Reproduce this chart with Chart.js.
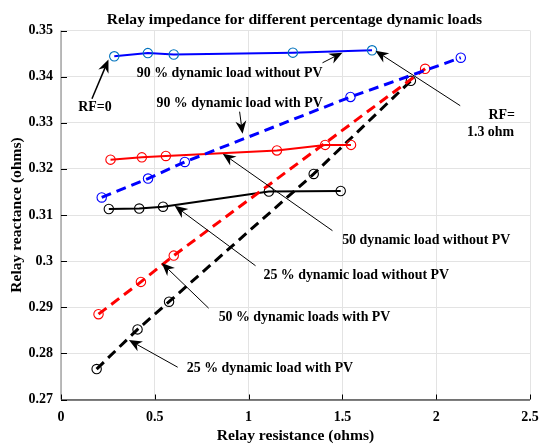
<!DOCTYPE html>
<html>
<head>
<meta charset="utf-8">
<script src="https://cdn.jsdelivr.net/npm/chart.js@4.4.0/dist/chart.umd.min.js"></script>
<style>
  html, body { margin: 0; padding: 0; background: #fff; }
  canvas { display: block; }
</style>
</head>
<body>
<canvas id="chart" width="539" height="444"></canvas>
<script>
// resistance (x) / reactance (y), ohms
const r90NoPV = [0.284, 0.463, 0.601, 1.236, 1.658];
const x90NoPV = [0.3444, 0.3451, 0.3448, 0.3452, 0.3457];
const r90PV = [0.217, 0.464, 0.660, 1.543, 2.131];
const x90PV = [0.3138, 0.3179, 0.3215, 0.3356, 0.3441];
const r50NoPV = [0.264, 0.431, 0.559, 1.151, 1.408, 1.546];
const x50NoPV = [0.3220, 0.3225, 0.3228, 0.3240, 0.3252, 0.3252];
const r50PV = [0.200, 0.426, 0.601, 1.941];
const x50PV = [0.2885, 0.2955, 0.3012, 0.3417];
const r25NoPV = [0.255, 0.417, 0.544, 1.108, 1.491];
const x25NoPV = [0.3113, 0.3114, 0.3118, 0.3151, 0.3152];
const r25PV = [0.190, 0.408, 0.576, 1.347, 1.865];
const x25PV = [0.2766, 0.2852, 0.2912, 0.3189, 0.3391];

const xTicks = [0, 0.5, 1, 1.5, 2, 2.5];
const yTicks = [0.27, 0.28, 0.29, 0.30, 0.31, 0.32, 0.33, 0.34, 0.35];

// text notes and arrows, in data units
const notes = [
  { text: "RF=0", x: 0.181, y: 0.3334, align: "center" },
  { text: "90 % dynamic load without PV", x: 0.899, y: 0.3408, align: "center" },
  { text: "90 % dynamic load with PV", x: 0.952, y: 0.3343, align: "center" },
  { text: "RF=", x: 2.420, y: 0.3317, align: "right" },
  { text: "1.3 ohm", x: 2.415, y: 0.3278, align: "right" },
  { text: "50 dynamic load without PV", x: 1.947, y: 0.3046, align: "center" },
  { text: "25 % dynamic load without PV", x: 1.574, y: 0.2970, align: "center" },
  { text: "50 % dynamic loads with PV", x: 1.298, y: 0.2879, align: "center" },
  { text: "25 % dynamic load with PV", x: 1.114, y: 0.2768, align: "center" },
];
const arrows = [
  { from: [0.165, 0.3352], to: [0.253, 0.3437], lw: 1.5 },
  { from: [1.394, 0.3430], to: [1.500, 0.3452], lw: 1 },
  { from: [0.952, 0.3324], to: [0.968, 0.3276], lw: 1 },
  { from: [2.128, 0.3337], to: [1.676, 0.3456], lw: 1 },
  { from: [1.447, 0.3066], to: [0.862, 0.3233], lw: 1 },
  { from: [1.037, 0.2990], to: [0.606, 0.3120], lw: 1 },
  { from: [0.787, 0.2898], to: [0.537, 0.2996], lw: 1 },
  { from: [0.622, 0.2770], to: [0.362, 0.2829], lw: 1 },
];

const SERIF = "'Liberation Serif', 'Times New Roman', serif";

const pts = (rs, xs) => rs.map((r, i) => ({ x: r, y: xs[i] }));

function series(rs, xs, color, markerColor, dashed) {
  return {
    data: pts(rs, xs),
    showLine: true,
    borderColor: color,
    borderWidth: dashed ? 3 : 2,
    borderDash: dashed ? [10, 6] : [],
    pointRadius: 4.7,
    pointBorderWidth: 1.1,
    pointBorderColor: markerColor,
    pointBackgroundColor: "rgba(0,0,0,0)",
    tension: 0,
  };
}

function drawArrow(ctx, x1, y1, x2, y2, lw) {
  const ang = Math.atan2(y2 - y1, x2 - x1);
  const len = 13, half = 5.5, notch = 9;
  const bx = x2 - notch * Math.cos(ang), by = y2 - notch * Math.sin(ang);
  ctx.strokeStyle = "#000";
  ctx.lineWidth = lw;
  ctx.beginPath();
  ctx.moveTo(x1, y1);
  ctx.lineTo(bx, by);
  ctx.stroke();
  const cx = x2 - len * Math.cos(ang), cy = y2 - len * Math.sin(ang);
  const nx = -Math.sin(ang), ny = Math.cos(ang);
  ctx.fillStyle = "#000";
  ctx.beginPath();
  ctx.moveTo(x2, y2);
  ctx.lineTo(cx + nx * half, cy + ny * half);
  ctx.lineTo(bx, by);
  ctx.lineTo(cx - nx * half, cy - ny * half);
  ctx.closePath();
  ctx.fill();
}

const decorations = {
  id: "decorations",
  afterDraw(chart) {
    const { ctx, chartArea: a, scales } = chart;
    const xs = scales.x, ys = scales.y;
    ctx.save();
    // axis lines
    ctx.strokeStyle = "#a6a6a6";
    ctx.lineWidth = 1.5;
    ctx.beginPath();
    ctx.moveTo(a.left, a.top);
    ctx.lineTo(a.left, a.bottom);
    ctx.stroke();
    ctx.strokeStyle = "#000";
    ctx.lineWidth = 1;
    ctx.beginPath();
    ctx.moveTo(a.left, a.bottom + 0.5);
    ctx.lineTo(a.right, a.bottom + 0.5);
    ctx.stroke();
    // inward ticks
    ctx.beginPath();
    xTicks.forEach(v => {
      const p = Math.round(xs.getPixelForValue(v)) + 0.5;
      ctx.moveTo(p, a.bottom);
      ctx.lineTo(p, a.bottom - 5);
    });
    yTicks.forEach(v => {
      const p = Math.round(ys.getPixelForValue(v)) + 0.5;
      ctx.moveTo(a.left, p);
      ctx.lineTo(a.left + 6, p);
    });
    ctx.stroke();

    // title
    ctx.fillStyle = "#000";
    ctx.font = "bold 15.6px " + SERIF;
    ctx.textAlign = "center";
    ctx.textBaseline = "middle";
    ctx.fillText("Relay impedance for different percentage dynamic loads", 294.5, 19.5);

    // notes
    ctx.font = "bold 13.9px " + SERIF;
    notes.forEach(n => {
      ctx.textAlign = n.align;
      ctx.fillText(n.text, xs.getPixelForValue(n.x), ys.getPixelForValue(n.y));
    });
    arrows.forEach(ar => {
      drawArrow(ctx,
        xs.getPixelForValue(ar.from[0]), ys.getPixelForValue(ar.from[1]),
        xs.getPixelForValue(ar.to[0]), ys.getPixelForValue(ar.to[1]), ar.lw);
    });
    ctx.restore();
  }
};

new Chart(document.getElementById("chart"), {
  type: "scatter",
  data: {
    datasets: [
      series(r90NoPV, x90NoPV, "#0000ff", "#0072bd", false),
      series(r90PV, x90PV, "#0000ff", "#0000ff", true),
      series(r50NoPV, x50NoPV, "#ff0000", "#ff0000", false),
      series(r50PV, x50PV, "#ff0000", "#ff0000", true),
      series(r25NoPV, x25NoPV, "#000000", "#000000", false),
      series(r25PV, x25PV, "#000000", "#000000", true),
    ],
  },
  options: {
    responsive: false,
    animation: false,
    events: [],
    layout: { padding: { top: 30.5, right: 9, left: 0, bottom: 0 } },
    plugins: { legend: { display: false }, tooltip: { enabled: false }, title: { display: false } },
    scales: {
      x: {
        type: "linear",
        min: 0, max: 2.5,
        afterBuildTicks: s => { s.ticks = xTicks.map(v => ({ value: v })); },
        afterFit: s => { s.height = 44.5; s.paddingLeft = 0; s.paddingRight = 0; },
        ticks: {
          color: "#000",
          padding: 9,
          font: { family: SERIF, size: 14, weight: "bold" },
          callback: v => String(+v.toFixed(2)),
        },
        grid: { color: "#e3e3e3", drawTicks: false },
        border: { display: false },
        title: {
          display: true,
          text: "Relay resistance (ohms)",
          color: "#000",
          font: { family: SERIF, size: 15.6, weight: "bold", lineHeight: 1 },
          padding: { top: 0, bottom: 0 },
        },
      },
      y: {
        type: "linear",
        min: 0.27, max: 0.35,
        afterBuildTicks: s => { s.ticks = yTicks.map(v => ({ value: v })); },
        afterFit: s => { s.width = 61; s.paddingTop = 0; s.paddingBottom = 0; },
        ticks: {
          color: "#000",
          padding: 8,
          font: { family: SERIF, size: 14, weight: "bold" },
          callback: v => String(+v.toFixed(2)),
        },
        grid: { color: "#e3e3e3", drawTicks: false },
        border: { display: false },
        title: {
          display: true,
          text: "Relay reactance (ohms)",
          color: "#000",
          font: { family: SERIF, size: 15.6, weight: "bold", lineHeight: 1 },
          padding: { top: 9, bottom: 0 },
        },
      },
    },
  },
  plugins: [decorations],
});
</script>
</body>
</html>
